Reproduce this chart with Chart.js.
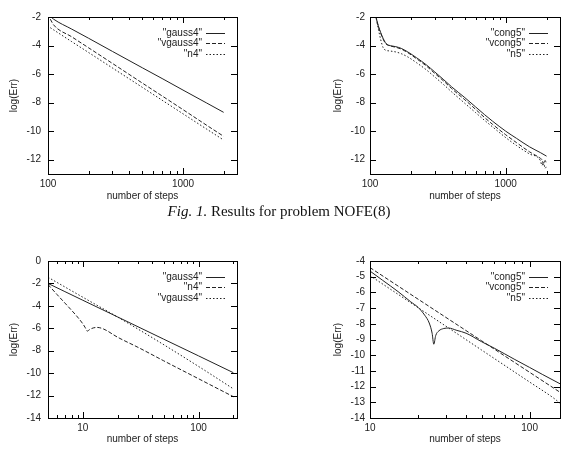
<!DOCTYPE html>
<html>
<head>
<meta charset="utf-8">
<script src="https://cdn.jsdelivr.net/npm/chart.js@4.4.1/dist/chart.umd.min.js"></script>
<style>
  body { margin: 0; background: #fff; }
  #wrap { position: relative; width: 573px; height: 464px; overflow: hidden; }
  canvas { position: absolute; }
  #caption {
    position: absolute; left: 0; width: 558px; top: 203px;
    text-align: center; font: 15px "Liberation Serif", serif; color: #111;
  }
</style>
</head>
<body>
<div id="wrap">
  <canvas id="c1" width="286" height="205" style="left:0;top:0"></canvas>
  <canvas id="c2" width="287" height="205" style="left:286px;top:0"></canvas>
  <div id="caption"><i>Fig. 1.</i> Results for problem NOFE(8)</div>
  <canvas id="c3" width="286" height="205" style="left:0;top:245px"></canvas>
  <canvas id="c4" width="287" height="205" style="left:286px;top:245px"></canvas>
</div>
<script>
// ---- data ----
// top-left
const aGaussX  = [104, 110, 150, 200, 300, 500, 700, 1000, 1500, 2000];
const aGaussY  = [-1.95, -2.15, -2.85, -3.49, -4.41, -5.56, -6.31, -7.12, -8.03, -8.68];
const aVgaussX = [104, 110, 150, 200, 300, 500, 700, 1000, 1500, 2000];
const aVgaussY = [-2.15, -2.55, -3.39, -4.16, -5.25, -6.63, -7.53, -8.49, -9.59, -10.36];
const aN4X     = [104, 110, 150, 200, 300, 500, 700, 1000, 1500, 2000];
const aN4Y     = [-2.75, -2.9, -3.73, -4.49, -5.57, -6.93, -7.83, -8.78, -9.86, -10.62];

// top-right
const bCongX  = [110, 115, 120, 125, 130, 137, 145, 155, 170, 190, 220, 260, 300, 350, 400, 500, 600, 700, 800, 1000, 1200, 1500, 1800, 2000];
const bCongY  = [-1.9, -2.6, -3.1, -3.5, -3.8, -3.97, -4.03, -4.08, -4.2, -4.45, -4.85, -5.35, -5.85, -6.4, -6.9, -7.65, -8.3, -8.85, -9.3, -10.0, -10.5, -11.1, -11.5, -11.75];
const bVcongX = [110, 115, 120, 125, 130, 137, 145, 155, 170, 190, 220, 260, 300, 350, 400, 500, 600, 700, 800, 1000, 1200, 1500, 1800, 1850, 1900, 1950, 2000];
const bVcongY = [-1.9, -2.65, -3.15, -3.55, -3.85, -4.0, -4.06, -4.12, -4.25, -4.5, -4.92, -5.43, -5.95, -6.5, -7.02, -7.8, -8.47, -9.05, -9.52, -10.25, -10.8, -11.45, -11.9, -12.0, -12.35, -12.05, -12.3];
const bN5X    = [110, 115, 120, 125, 130, 140, 155, 170, 190, 220, 260, 300, 350, 400, 500, 600, 700, 800, 1000, 1200, 1500, 1800, 1850, 1900, 1950, 2000];
const bN5Y    = [-1.9, -2.8, -3.6, -4.15, -4.32, -4.38, -4.45, -4.57, -4.8, -5.2, -5.7, -6.2, -6.75, -7.25, -8.05, -8.7, -9.25, -9.7, -10.45, -11.0, -11.6, -12.05, -12.4, -12.15, -12.6, -12.45];

// bottom-left
const cGaussX  = [5, 7, 10, 20, 50, 100, 200];
const cGaussY  = [-2.0, -2.73, -3.5, -4.99, -6.97, -8.46, -9.96];
const cN4X     = [5, 6, 7, 8, 9, 10, 10.5, 10.9, 11.5, 12.3, 13.2, 15, 20, 30, 50, 100, 200];
const cN4Y     = [-2.1, -3.0, -3.75, -4.4, -5.0, -5.6, -5.95, -6.25, -6.1, -5.97, -5.92, -6.05, -6.8, -7.7, -8.9, -10.5, -12.1];
const cVgaussX = [5, 10, 20, 40, 100, 200];
const cVgaussY = [-1.45, -3.23, -5.0, -6.85, -9.4, -11.4];

// bottom-right
const dCongX  = [10, 12, 15, 18, 20, 22, 23.5, 24.5, 25.1, 25.8, 27, 29, 31, 35, 40, 50, 60, 80, 100, 120, 155];
const dCongY  = [-4.64, -5.23, -5.95, -6.6, -6.95, -7.45, -7.95, -8.6, -9.3, -8.75, -8.45, -8.3, -8.27, -8.42, -8.6, -9.14, -9.55, -10.25, -10.78, -11.22, -11.82];
const dVcongX = [10, 20, 50, 100, 155];
const dVcongY = [-4.42, -6.43, -9.08, -11.09, -12.36];
const dN5X    = [10, 20, 50, 100, 140, 155];
const dN5Y    = [-4.93, -6.97, -9.67, -11.71, -12.7, -13.05];

// axis ticks
const bigStepTicks   = [100, 200, 300, 400, 500, 600, 700, 800, 900, 1000, 2000];
const bigStepLabels  = [100, 1000];
const smallStepTicks = [5, 6, 7, 8, 9, 10, 20, 30, 40, 50, 60, 70, 80, 90, 100, 200];
const midStepTicks   = [10, 20, 30, 40, 50, 60, 70, 80, 90, 100];
const smallStepLabels = [10, 100];
const errTicksTop    = [-12, -10, -8, -6, -4, -2];
const errTicksC      = [-14, -12, -10, -8, -6, -4, -2, 0];
const errTicksD      = [-14, -13, -12, -11, -10, -9, -8, -7, -6, -5, -4];

const FONT = '"Liberation Sans", Arial, sans-serif';
const INK = '#222';

function pts(xs, ys) {
  return xs.map((x, i) => ({ x: x, y: ys[i] }));
}

function serie(label, xs, ys, dash) {
  return {
    label: label,
    data: pts(xs, ys),
    borderColor: INK,
    borderWidth: 1,
    borderDash: dash,
    pointRadius: 0,
    cubicInterpolationMode: 'monotone',
    fill: false
  };
}

const SOLID = [];
const DASHED = [4, 2];
const DOTTED = [1.5, 2];

// inward gnuplot style ticks, border and legend inside the plot
const gnuFrame = {
  id: 'gnuFrame',
  afterDraw(chart) {
    const { ctx, chartArea: a, scales: { x, y } } = chart;
    ctx.save();
    ctx.strokeStyle = '#000';
    ctx.lineWidth = 1;
    ctx.setLineDash([]);
    ctx.beginPath();
    x.ticks.forEach(t => {
      const px = Math.round(x.getPixelForValue(t.value)) + 0.5;
      const len = t.major ? 6 : 3;
      ctx.moveTo(px, a.bottom); ctx.lineTo(px, a.bottom - len);
      ctx.moveTo(px, a.top); ctx.lineTo(px, a.top + len);
    });
    y.ticks.forEach(t => {
      const py = Math.round(y.getPixelForValue(t.value)) + 0.5;
      ctx.moveTo(a.left, py); ctx.lineTo(a.left + 6, py);
      ctx.moveTo(a.right, py); ctx.lineTo(a.right - 6, py);
    });
    ctx.stroke();
    ctx.strokeRect(Math.round(a.left) + 0.5, Math.round(a.top) + 0.5,
      Math.round(a.right - a.left), Math.round(a.bottom - a.top));

    ctx.font = '10px ' + FONT;
    ctx.textAlign = 'right';
    ctx.textBaseline = 'middle';
    ctx.fillStyle = INK;
    chart.data.datasets.forEach((ds, i) => {
      const ly = Math.round(a.top + 15.5 + i * 10.5) + 0.5;
      ctx.fillText(ds.label, a.right - 35, ly);
      ctx.strokeStyle = INK;
      ctx.setLineDash(ds.borderDash);
      ctx.beginPath();
      ctx.moveTo(a.right - 31, ly);
      ctx.lineTo(a.right - 12, ly);
      ctx.stroke();
    });
    ctx.restore();
  }
};

function makePanel(id, o) {
  new Chart(document.getElementById(id), {
    type: 'line',
    data: { datasets: o.datasets },
    options: {
      responsive: false,
      animation: false,
      events: [],
      layout: { padding: { left: 0, top: o.top, right: o.right, bottom: 0 } },
      plugins: { legend: { display: false }, tooltip: { enabled: false } },
      scales: {
        x: {
          type: 'logarithmic',
          min: o.xMin, max: o.xMax,
          grid: { display: false, drawTicks: false },
          border: { display: false },
          afterBuildTicks: s => {
            s.ticks = o.xTicks.map(v => ({ value: v, major: o.xLabels.includes(v) }));
          },
          afterFit: s => { s.height = o.xHeight; },
          ticks: {
            autoSkip: false, maxRotation: 0, padding: 4,
            color: INK, font: { family: FONT, size: 10 },
            callback: v => o.xLabels.includes(v) ? String(v) : ''
          },
          title: {
            display: true, text: 'number of steps', color: INK,
            font: { family: FONT, size: 10 }, padding: { top: 0, bottom: o.xTitlePad }
          }
        },
        y: {
          type: 'linear',
          min: o.yMin, max: o.yMax,
          grid: { display: false, drawTicks: false },
          border: { display: false },
          afterBuildTicks: s => {
            s.ticks = o.yTicks.map(v => ({ value: v, major: true }));
          },
          afterFit: s => { s.width = o.yWidth; },
          ticks: {
            padding: o.yPad, color: INK, font: { family: FONT, size: 10 },
            callback: v => String(v)
          },
          title: {
            display: true, text: 'log(Err)', color: INK,
            font: { family: FONT, size: 10 }, padding: { top: o.yTitlePad, bottom: 0 }
          }
        }
      }
    },
    plugins: [gnuFrame]
  });
}

makePanel('c1', {
  datasets: [
    serie('"gauss4"', aGaussX, aGaussY, SOLID),
    serie('"vgauss4"', aVgaussX, aVgaussY, DASHED),
    serie('"n4"', aN4X, aN4Y, DOTTED)
  ],
  xMin: 100, xMax: 2512, xTicks: bigStepTicks, xLabels: bigStepLabels,
  yMin: -13, yMax: -2, yTicks: errTicksTop,
  top: 17, right: 49, xHeight: 31, yWidth: 48, yPad: 7, xTitlePad: 3, yTitlePad: 8
});

makePanel('c2', {
  datasets: [
    serie('"cong5"', bCongX, bCongY, SOLID),
    serie('"vcong5"', bVcongX, bVcongY, DASHED),
    serie('"n5"', bN5X, bN5Y, DOTTED)
  ],
  xMin: 100, xMax: 2512, xTicks: bigStepTicks, xLabels: bigStepLabels,
  yMin: -13, yMax: -2, yTicks: errTicksTop,
  top: 17, right: 13, xHeight: 31, yWidth: 84, yPad: 5, xTitlePad: 3, yTitlePad: 46
});

makePanel('c3', {
  datasets: [
    serie('"gauss4"', cGaussX, cGaussY, SOLID),
    serie('"n4"', cN4X, cN4Y, DASHED),
    serie('"vgauss4"', cVgaussX, cVgaussY, DOTTED)
  ],
  xMin: 5, xMax: 215, xTicks: smallStepTicks, xLabels: smallStepLabels,
  yMin: -14, yMax: 0, yTicks: errTicksC,
  top: 16, right: 49, xHeight: 32, yWidth: 48, yPad: 7, xTitlePad: 5, yTitlePad: 8
});

makePanel('c4', {
  datasets: [
    serie('"cong5"', dCongX, dCongY, SOLID),
    serie('"vcong5"', dVcongX, dVcongY, DASHED),
    serie('"n5"', dN5X, dN5Y, DOTTED)
  ],
  xMin: 10, xMax: 155, xTicks: midStepTicks, xLabels: smallStepLabels,
  yMin: -14, yMax: -4, yTicks: errTicksD,
  top: 16, right: 13, xHeight: 32, yWidth: 84, yPad: 5, xTitlePad: 5, yTitlePad: 46
});
</script>
</body>
</html>
